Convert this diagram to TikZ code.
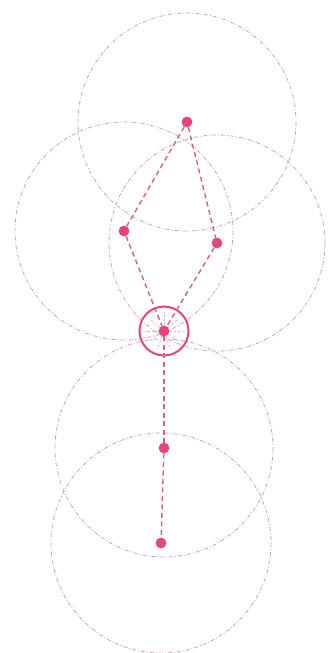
\documentclass[tikz,border=0pt]{standalone}
\definecolor{dotpink}{HTML}{E5457C}
\definecolor{linkpink}{HTML}{D0628A}
\definecolor{circgray}{HTML}{CDA3B2}
\definecolor{raygray}{HTML}{DDB2C1}
\tikzset{
  dotnode/.style={circle, fill=dotpink, draw=none, inner sep=0pt, minimum size=10.5pt},
  guide/.style={draw=circgray, line width=0.8pt, dash pattern=on 4pt off 2pt on 1pt off 2pt},
  link/.style={draw=linkpink, line width=1.4pt, dash pattern=on 5pt off 3.5pt},
  ringline/.style={draw=dotpink, line width=2pt},
  ray/.style={draw=raygray, line width=0.7pt, dash pattern=on 2.5pt off 2pt},
}
\begin{document}
\begin{tikzpicture}[x=1pt,y=-1pt]
\useasboundingbox (0,0) rectangle (329,653);
% node positions
\node[dotnode] (top) at (187,122) {};
\node[dotnode] (left) at (124,231) {};
\node[dotnode] (right) at (217,243) {};
\node[dotnode] (hub) at (164,331) {};
\node[dotnode] (mid) at (164,448) {};
\node[dotnode] (bot) at (161,543) {};
% guide circles
\draw[guide] (top) circle[radius=109];
\draw[guide] (left) circle[radius=109];
\draw[guide] (right) circle[radius=108];
\draw[guide] (mid) circle[radius=109];
\draw[guide] (bot) circle[radius=110];
% rays inside ring
\foreach \a in {0,40,90,140,180,215,250,290,325}
  \draw[ray] (hub) -- ++(\a:-19) ;
% ring
\draw[ringline] (hub) circle[radius=24.5];
% links
\draw[link] (top) -- (left);
\draw[link] (top) -- (right);
\draw[link] (left) -- (hub);
\draw[link] (right) -- (hub);
\draw[link] (hub) -- (mid);
\draw[link] (mid) -- (bot);
% redraw dots on top
\foreach \n in {top,left,right,hub,mid,bot}
  \fill[dotpink] (\n) circle[radius=5.25];
\end{tikzpicture}
\end{document}
